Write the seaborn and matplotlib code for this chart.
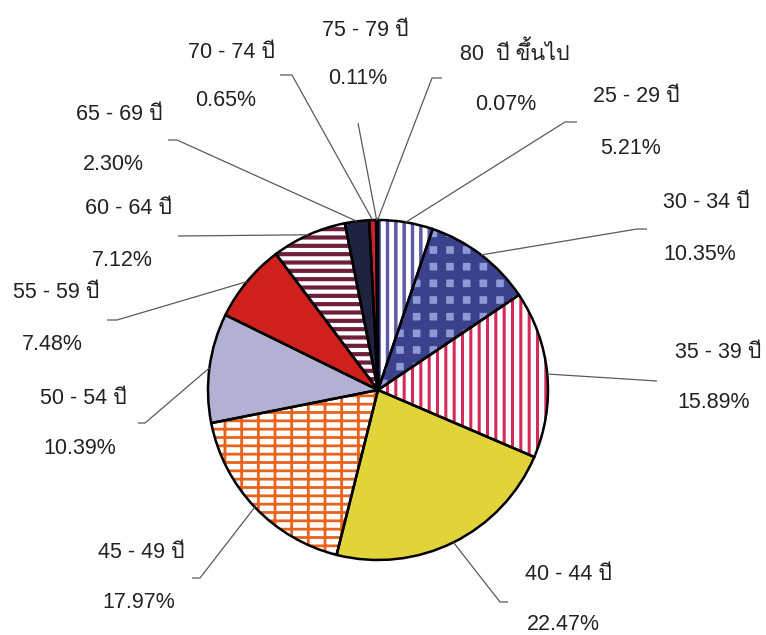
import matplotlib
matplotlib.use('Agg')
import matplotlib.pyplot as plt
import numpy as np
import seaborn as sns
from matplotlib import font_manager
from matplotlib.ft2font import FT2Font

# ---- data ----
age_groups = ['25 - 29 ปี', '30 - 34 ปี', '35 - 39 ปี', '40 - 44 ปี',
              '45 - 49 ปี', '50 - 54 ปี', '55 - 59 ปี', '60 - 64 ปี',
              '65 - 69 ปี', '70 - 74 ปี', '75 - 79 ปี', '80  ปี ขึ้นไป']
shares = [5.21, 10.35, 15.89, 22.47, 17.97, 10.39, 7.48, 7.12, 2.30, 0.65, 0.11, 0.07]
pct_labels = ['5.21%', '10.35%', '15.89%', '22.47%', '17.97%', '10.39%',
              '7.48%', '7.12%', '2.30%', '0.65%', '0.11%', '0.07%']

# ---- slice styles ----
face_colors = ['white', '#8e9ad6', 'white', '#e0d43a', 'white', '#b3b1d3',
               '#d0201e', 'white', '#1f2340', '#d02030', '#f4f0f4', '#3a3f8a']
hatch_colors = ['#5a5aa8', '#3c418c', '#d42a5a', None, '#e8641e', None,
                None, '#6e1f3c', None, None, None, None]
hatches = ['||', '+', '||', None, '--|', None, None, '--', None, None, None, None]
hatch_widths = [2.5, 6.5, 2.2, None, 2.0, None, None, 3.0, None, None, None, None]

# ---- label layout (pixels from top-left) ----
name_pos = [(593, 97), (663, 203), (675, 352), (525, 575), (98, 552), (40, 398),
            (13, 293), (85, 208), (76, 115), (188, 52), (322, 30), (460, 53)]
pct_pos = [(600, 148), (663, 255), (677, 403), (527, 625), (102, 603), (43, 448),
           (22, 345), (92, 260), (83, 165), (195, 100), (328, 78), (475, 105)]
hook_pos = [(577, 122), (647, 229), (657, 381), (508, 602), (192, 578), (138, 423),
            (107, 320), (178, 236), (168, 140), (280, 75), (358, 123), (442, 78)]
hook_len = [12, 10, 0, 8, 8, 7, 10, 0, 9, 12, 0, 10]

W, H = 766, 635
cx, cy, rad = 378, H - 390, 170


def find_thai_font():
    for f in font_manager.fontManager.ttflist:
        try:
            if 0x0E1B in FT2Font(f.fname).get_charmap():
                return f.name
        except Exception:
            continue
    return None


sns.set_theme(style='white')
thai = find_thai_font()
families = ['Liberation Sans']
if thai:
    families.append(thai)
families.append('DejaVu Sans')
plt.rcParams['font.family'] = families
plt.rcParams['hatch.linewidth'] = 2.5

fig = plt.figure(figsize=(W / 100, H / 100), dpi=100)
ax = fig.add_axes([0, 0, 1, 1])

# filled + hatched layer
wedges, _ = ax.pie(shares, startangle=90, counterclock=False, center=(cx, cy),
                   radius=rad, colors=face_colors, wedgeprops=dict(linewidth=0))
for w, h, hc, hw in zip(wedges, hatches, hatch_colors, hatch_widths):
    if h:
        w.set_hatch(h)
        w.set_edgecolor(hc)
        w.set_linewidth(0)
        try:
            w.set_hatch_linewidth(hw)
        except AttributeError:
            pass

# black outlines on top
ax.pie(shares, startangle=90, counterclock=False, center=(cx, cy), radius=rad,
       wedgeprops=dict(fill=False, edgecolor='black', linewidth=1.8))

# leader lines + labels
for w, name, pct, npos, ppos, hp, hl in zip(wedges, age_groups, pct_labels,
                                             name_pos, pct_pos, hook_pos, hook_len):
    mid = np.deg2rad((w.theta1 + w.theta2) / 2)
    ex, ey = cx + rad * np.cos(mid), cy + rad * np.sin(mid)
    hx, hy = hp[0], H - hp[1]
    side = 1 if hx > ex else -1
    ax.plot([ex, hx - side * hl, hx], [ey, hy, hy], color='#5a5a5a', lw=0.9,
            solid_capstyle='butt')
    ax.text(npos[0], H - npos[1], name, fontsize=15.5, color='#222222',
            ha='left', va='center')
    ax.text(ppos[0], H - ppos[1], pct, fontsize=15.5, color='#222222',
            ha='left', va='center')

ax.set_xlim(0, W)
ax.set_ylim(0, H)
ax.set_aspect('equal')
ax.axis('off')

fig.savefig('out.png', dpi=100, facecolor='white')
